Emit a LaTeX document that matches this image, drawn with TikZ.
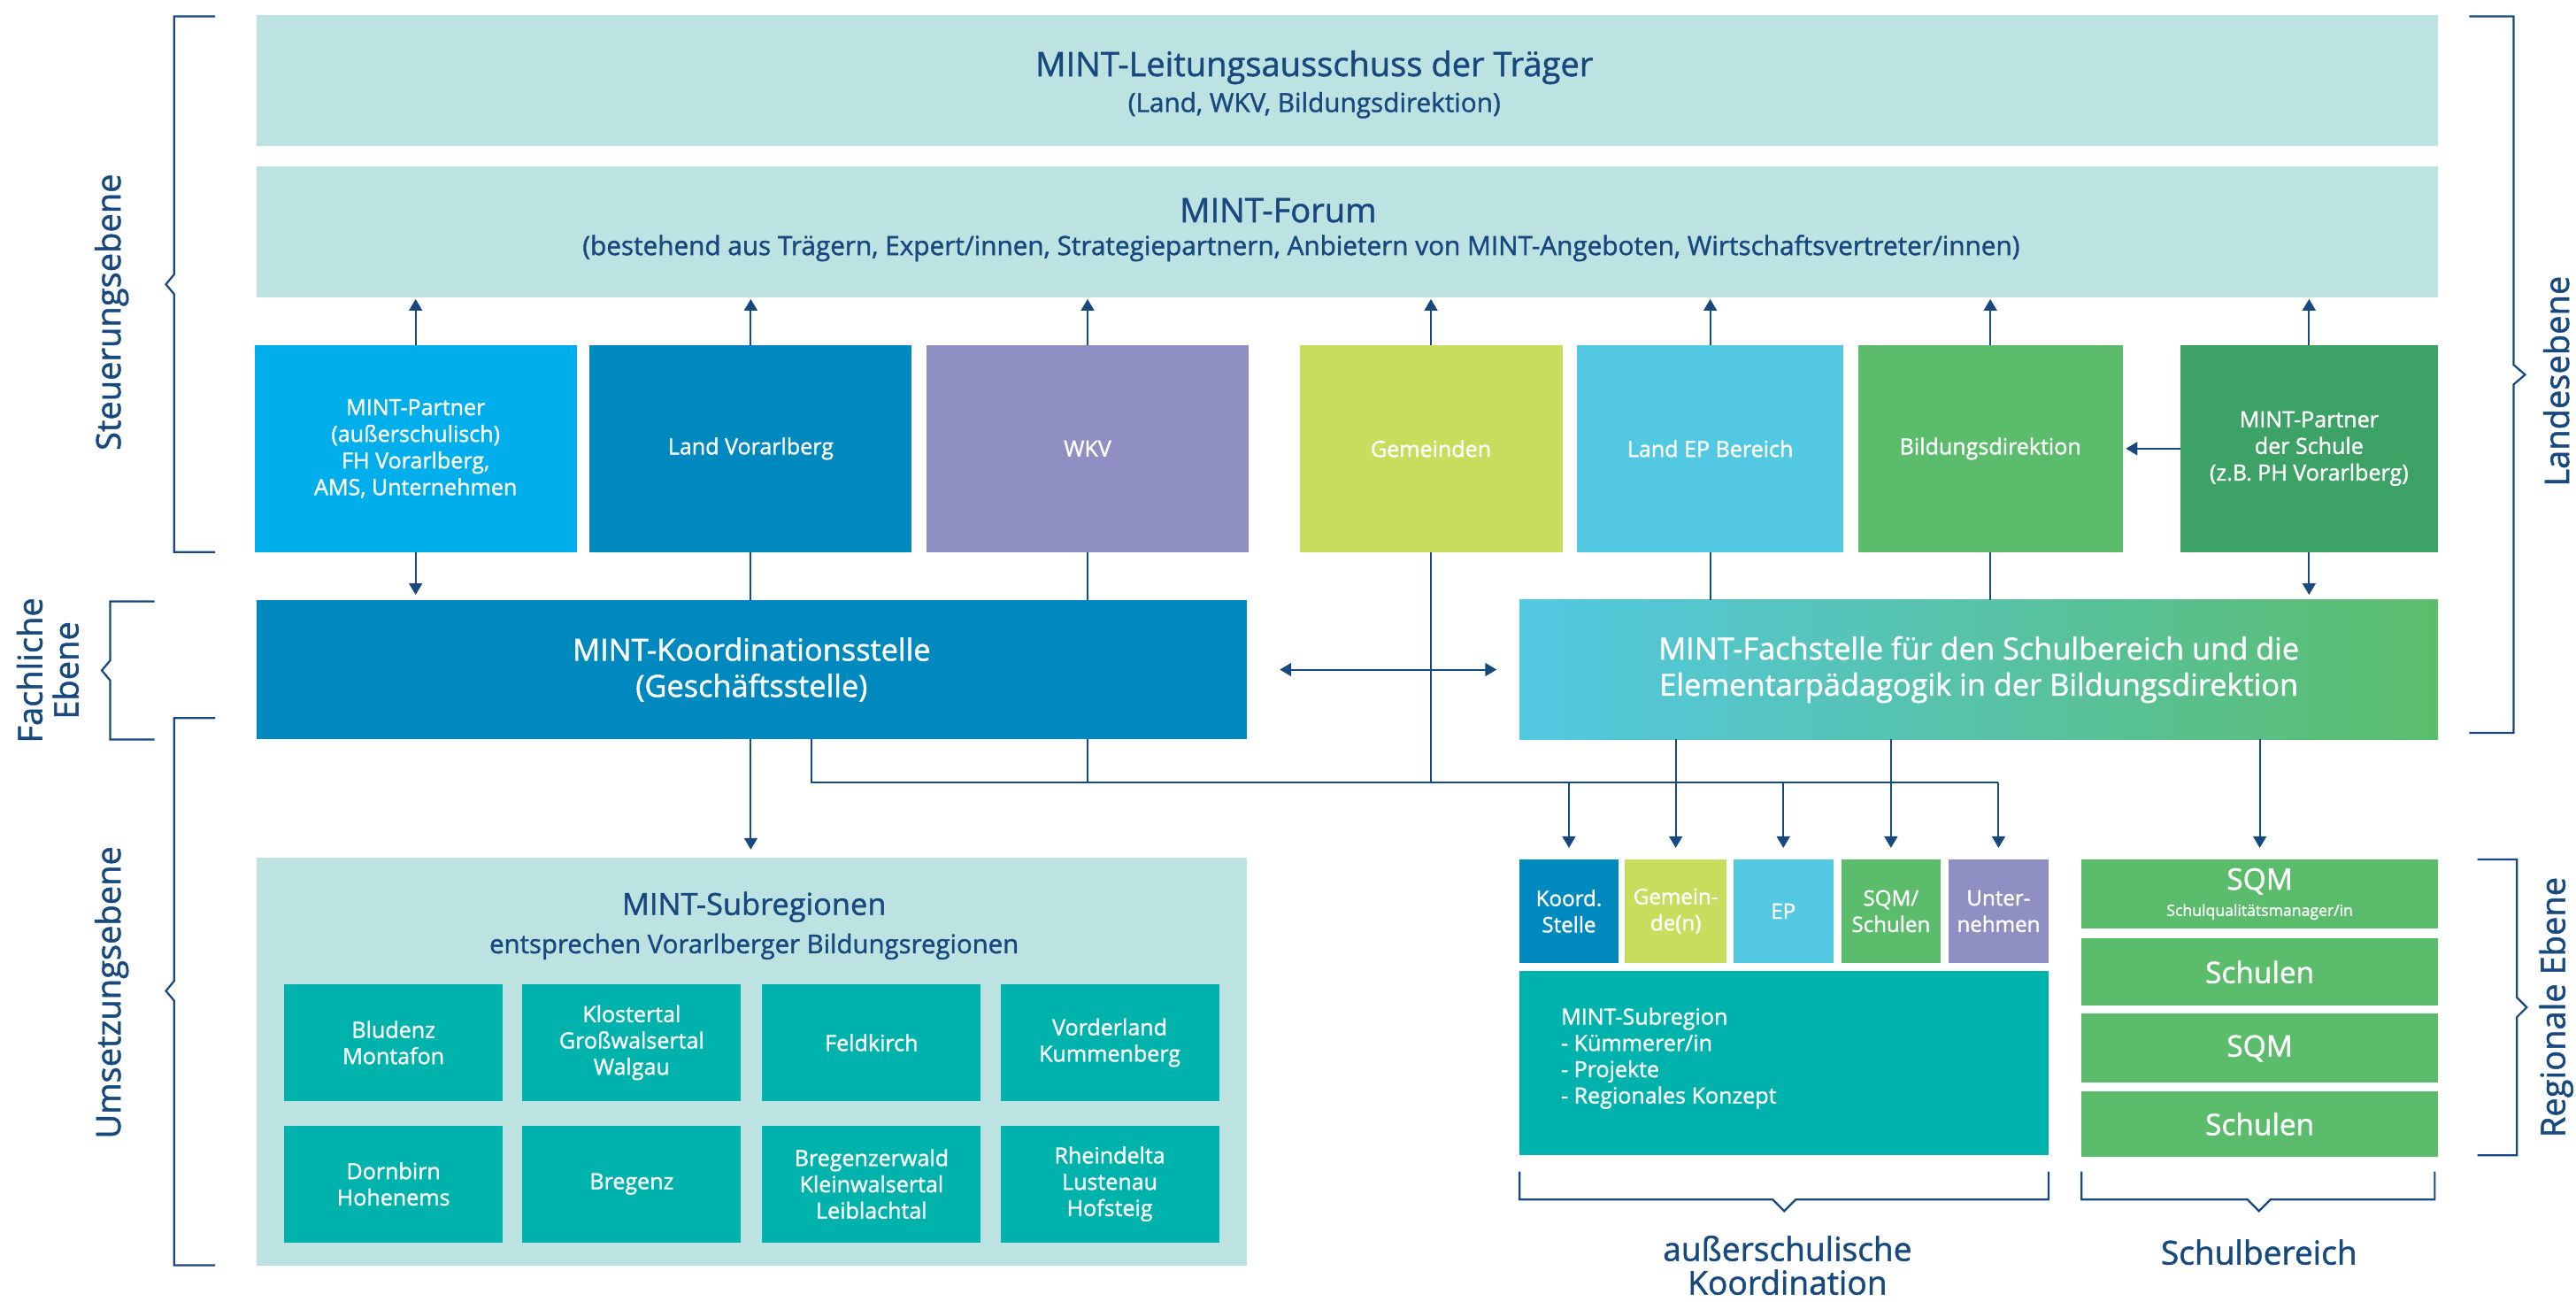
\documentclass[tikz,border=0pt]{standalone}
\usepackage{fontspec}
\setmainfont[FakeBold=1.3]{Open Sans}
\usetikzlibrary{arrows.meta}
\definecolor{navy}{HTML}{17497F}
\definecolor{lteal}{HTML}{BCE3E1}
\definecolor{cMP}{HTML}{00AEEC}
\definecolor{cLV}{HTML}{0089BF}
\definecolor{cWKV}{HTML}{8F8FC4}
\definecolor{cGem}{HTML}{C8DC5E}
\definecolor{cEP}{HTML}{53C8E3}
\definecolor{cBD}{HTML}{5BBD6B}
\definecolor{cMPS}{HTML}{3DA266}
\definecolor{cSub}{HTML}{00B2AC}
\newcommand{\fs}[2]{\fontsize{#1}{#2}\selectfont}
\begin{document}
\begin{tikzpicture}[x=1pt,y=1pt,
  box/.style={anchor=north west, inner sep=0pt, outer sep=0pt, align=center, text=white},
  rowbox/.style={box, minimum height=126pt, font=\fs{13.5}{16.2}},
  subbox/.style={box, fill=cSub, minimum width=133pt, minimum height=71pt, font=\fs{13.5}{16}},
  smallbox/.style={box, minimum height=63pt, font=\fs{13}{16}},
  schbox/.style={box, fill=cBD, minimum width=217pt, font=\fs{18}{20}},
  conn/.style={draw=navy, line width=1.1pt},
  arr/.style={conn, -{Triangle[length=7pt,width=8pt]}},
  brk/.style={draw=navy, line width=1.2pt},
  lbl/.style={text=navy, inner sep=0pt, align=center}
]
\useasboundingbox (0,0) rectangle (1568,-792);

% top boxes
\node[box, fill=lteal, minimum width=1328pt, minimum height=80pt] (lead) at (156,-9) {};
\node[lbl, font=\fs{20.5}{24}] (leadT) at (800,-41) {MINT-Leitungsausschuss der Träger};
\node[lbl, font=\fs{16}{20}] (leadS) at (800,-64) {(Land, WKV, Bildungsdirektion)};
\node[box, fill=lteal, minimum width=1328pt, minimum height=80pt] (forum) at (156,-101) {};
\node[lbl, font=\fs{20.5}{24}] (forumT) at (778,-128) {MINT-Forum};
\node[lbl, font=\fs{16}{20}] (forumS) at (792,-151) {(bestehend aus Trägern, Expert/innen, Strategiepartnern, Anbietern von MINT-Angeboten, Wirtschaftsvertreter/innen)};

% row of partners
\node[rowbox, fill=cMP, minimum width=196pt] (mp) at (155,-210) {MINT-Partner\\(außerschulisch)\\FH Vorarlberg,\\AMS, Unternehmen};
\node[rowbox, fill=cLV, minimum width=196pt] (lv) at (359,-210) {Land Vorarlberg};
\node[rowbox, fill=cWKV, minimum width=196pt] (wkv) at (564,-210) {WKV};
\node[rowbox, fill=cGem, minimum width=160pt] (gem) at (791,-210) {Gemeinden};
\node[rowbox, fill=cEP, minimum width=162pt] (lep) at (960,-210) {Land EP Bereich};
\node[rowbox, fill=cBD, minimum width=161pt] (bd) at (1131,-210) {Bildungsdirektion};
\node[rowbox, fill=cMPS, minimum width=157pt] (mps) at (1327,-210) {MINT-Partner\\der Schule\\(z.B. PH Vorarlberg)};

% coordination level
\node[box, fill=cLV, minimum width=603pt, minimum height=85pt, font=\fs{18.5}{22}] (koord) at (156,-365)
  {MINT-Koordinationsstelle\\(Geschäftsstelle)};
\node[box, left color=cEP, right color=cBD, minimum width=559pt, minimum height=85pt, font=\fs{18.5}{22}] (fach) at (925,-365)
  {MINT-Fachstelle für den Schulbereich und die\\Elementarpädagogik in der Bildungsdirektion};

% subregions
\node[box, fill=lteal, minimum width=603pt, minimum height=248pt] (subreg) at (156,-522) {};
\node[lbl] (subT) at (459,-552) {\fs{18.5}{20}MINT-Subregionen};
\node[lbl] (subS) at (459,-576) {\fs{15.8}{18}entsprechen Vorarlberger Bildungsregionen};
\node[subbox] (r1) at (173,-599) {Bludenz\\Montafon};
\node[subbox] (r2) at (318,-599) {Klostertal\\Großwalsertal\\Walgau};
\node[subbox] (r3) at (464,-599) {Feldkirch};
\node[subbox] (r4) at (609,-599) {Vorderland\\Kummenberg};
\node[subbox] (r5) at (173,-685) {Dornbirn\\Hohenems};
\node[subbox] (r6) at (318,-685) {Bregenz};
\node[subbox] (r7) at (464,-685) {Bregenzerwald\\Kleinwalsertal\\Leiblachtal};
\node[subbox] (r8) at (609,-685) {Rheindelta\\Lustenau\\Hofsteig};

% small boxes
\node[smallbox, fill=cLV, minimum width=60pt] (ks) at (925,-523) {Koord.\\Stelle};
\node[smallbox, fill=cGem, minimum width=62pt] (gd) at (989,-523) {Gemein-\\de(n)};
\node[smallbox, fill=cEP, minimum width=61pt] (ep) at (1055,-523) {EP};
\node[smallbox, fill=cBD, minimum width=60pt] (sq) at (1121,-523) {SQM/\\Schulen};
\node[smallbox, fill=cWKV, minimum width=61pt] (un) at (1186,-523) {Unter-\\nehmen};
\node[box, fill=cSub, minimum width=322pt, minimum height=112pt] (ms) at (925,-591) {};
\node[anchor=west, inner sep=0pt, align=left, text=white, font=\fs{13.5}{16}] (msT) at ([xshift=25pt,yshift=3pt]ms.west)
  {MINT-Subregion\\- Kümmerer/in\\- Projekte\\- Regionales Konzept};

% school column
\node[schbox, minimum height=42pt] (sqm1) at (1267,-523) {SQM\\[-4pt]{\fs{9.5}{10}Schulqualitätsmanager/in}};
\node[schbox, minimum height=41pt] (sch1) at (1267,-571) {Schulen};
\node[schbox, minimum height=42pt] (sqm2) at (1267,-617) {SQM};
\node[schbox, minimum height=40pt] (sch2) at (1267,-664) {Schulen};

% connectors up to forum
\foreach \n in {mp,lv,wkv,gem,lep,bd,mps}
  \draw[arr, shorten >=1pt] (\n.north) -- (forum.south -| \n.north);

% partner rows down
\draw[arr, shorten >=3pt] (mp.south) -- (koord.north -| mp.south);
\draw[conn] (lv.south) -- (koord.north -| lv.south);
\draw[conn] (wkv.south) -- (koord.north -| wkv.south);
\draw[conn] (lep.south) -- (fach.north -| lep.south);
\draw[conn] (bd.south) -- (fach.north -| bd.south);
\draw[arr, shorten >=3pt] (mps.south) -- (fach.north -| mps.south);
\draw[arr, shorten >=2pt] (mps.west) -- (bd.east);

% double arrow
\draw[conn, {Triangle[length=7pt,width=8pt]}-{Triangle[length=7pt,width=8pt]}, shorten <=20pt, shorten >=14pt] (koord.east) -- (fach.west);

% bus
\coordinate (busL) at (494,-476);
\draw[conn] (gem.south) -- (gem.south |- busL);
\draw[arr, shorten >=5pt] (koord.south -| lv.south) -- (subreg.north -| lv.south);
\draw[conn] (koord.south -| wkv.south) -- (busL -| wkv.south);
\draw[conn] (koord.south -| busL) -- (busL) -- (busL -| un.north);
\draw[arr, shorten >=7pt] (busL -| ks.north) -- (ks.north);
\draw[arr, shorten >=7pt] (busL -| ep.north) -- (ep.north);
\draw[arr, shorten >=7pt] (busL -| un.north) -- (un.north);
\draw[arr, shorten >=7pt] (fach.south -| gd.north) -- (gd.north);
\draw[arr, shorten >=7pt] (fach.south -| sq.north) -- (sq.north);
\draw[arr, shorten >=7pt] (fach.south -| sqm1.north) -- (sqm1.north);

% left brackets
\draw[brk] (131,-10) -- (106,-10) -- (106,-167) -- (101,-173) -- (106,-179) -- (106,-336) -- (131,-336);
\draw[brk] (94,-366) -- (67,-366) -- (67,-402) -- (62,-408) -- (67,-414) -- (67,-450) -- (94,-450);
\draw[brk] (131,-437) -- (106,-437) -- (106,-597) -- (101,-603) -- (106,-609) -- (106,-770) -- (131,-770);
% right brackets
\draw[brk] (1503,-10) -- (1530,-10) -- (1530,-222) -- (1537,-228) -- (1530,-234) -- (1530,-446) -- (1503,-446);
\draw[brk] (1508,-523) -- (1532,-523) -- (1532,-607) -- (1538,-613) -- (1532,-619) -- (1532,-703) -- (1508,-703);
% bottom brackets
\draw[brk] (925,-713) -- (925,-730) -- (1079,-730) -- (1086,-737) -- (1093,-730) -- (1247,-730) -- (1247,-713);
\draw[brk] (1267,-713) -- (1267,-730) -- (1368,-730) -- (1375,-737) -- (1382,-730) -- (1482,-730) -- (1482,-713);

% level labels
\node[lbl, rotate=90, font=\fs{20.5}{22}] (lSt) at (68,-190) {Steuerungsebene};
\node[lbl, rotate=90, font=\fs{20.5}{22}] (lFa) at (29,-408) {Fachliche\\Ebene};
\node[lbl, rotate=90, font=\fs{20.5}{22}] (lUm) at (68,-604) {Umsetzungsebene};
\node[lbl, rotate=90, font=\fs{20.5}{22}] (lLa) at (1556,-232) {Landesebene};
\node[lbl, rotate=90, font=\fs{20.5}{22}] (lRe) at (1556,-613) {Regionale Ebene};
\node[lbl, font=\fs{20}{20.5}] (lAu) at (1088,-770) {außerschulische\\Koordination};
\node[lbl, font=\fs{20}{20.5}] (lSc) at (1375,-762) {Schulbereich};
\end{tikzpicture}
\end{document}
